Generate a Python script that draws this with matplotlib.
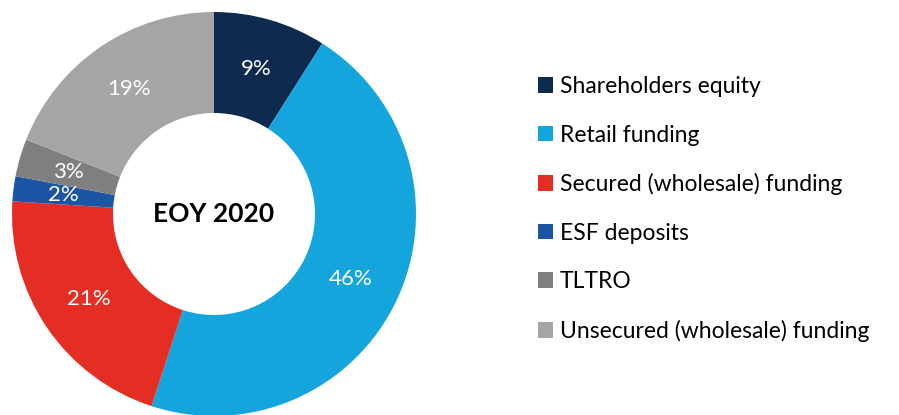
import matplotlib
matplotlib.use("Agg")
import matplotlib.pyplot as plt

categories = ["Shareholders equity", "Retail funding", "Secured (wholesale) funding",
              "ESF deposits", "TLTRO", "Unsecured (wholesale) funding"]
shares = [9, 46, 21, 2, 3, 19]
colors = ["#0E2A4E", "#14A5DC", "#E52E23", "#1C55A5", "#7F7F7F", "#A5A5A5"]
center_label = "EOY 2020"

plt.rcParams['font.family'] = ['Lato', 'DejaVu Sans']

fig = plt.figure(figsize=(8.99, 4.15), dpi=100)
ax = fig.add_axes([12 / 899, -1 / 415, 404 / 899, 404 / 415])

wedges, texts, autotexts = ax.pie(
    shares, colors=colors, startangle=90, counterclock=False,
    radius=1.0, wedgeprops=dict(width=0.5, linewidth=0),
    autopct=lambda p: f"{p:.0f}%", pctdistance=0.75,
    textprops=dict(color="white", fontsize=16))
ax.set_xlim(-1, 1)
ax.set_ylim(-1, 1)
ax.set_aspect("equal")

ax.text(0, 0, center_label, ha="center", va="center",
        fontsize=19, fontweight="bold", color="black")

leg = fig.legend(wedges, categories, loc="center left",
                 bbox_to_anchor=(538 / 899, 1 - 209 / 415),
                 frameon=False, fontsize=16.5, handlelength=0.66,
                 handleheight=0.66, handletextpad=0.3, labelspacing=1.2,
                 borderpad=0, borderaxespad=0)

fig.savefig("out.png", dpi=100)
